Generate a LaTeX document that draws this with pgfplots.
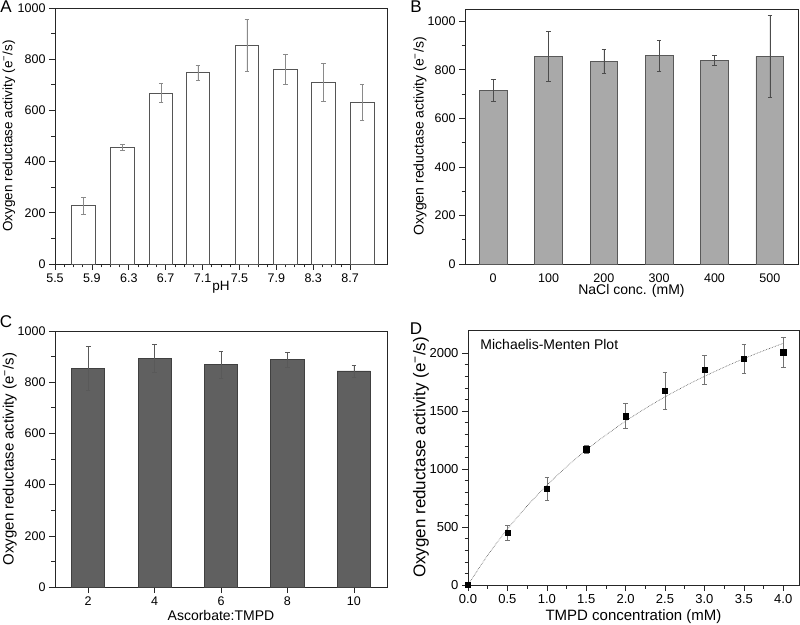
\documentclass[border=0pt]{standalone}
\usepackage{fontspec}
\setmainfont{Liberation Sans}
\usepackage{pgfplots}
\pgfplotsset{compat=1.18}

\definecolor{edgeA}{HTML}{555555}
\definecolor{errA}{HTML}{8A8A8A}
\definecolor{barB}{HTML}{A9A9A9}
\definecolor{barC}{HTML}{606060}

\newcommand{\fs}[1]{\fontsize{#1}{#1}\selectfont}
\newcommand{\ylab}{Oxygen reductase activity (e\textsuperscript{−}/s)}

\pgfplotsset{
  panel/.style={
    scale only axis,
    anchor=south west,
    clip=false,
    axis line style={black!85, line width=0.7pt},
    tick pos=left,
    tick align=outside,
    major tick length=6pt,
    minor tick length=3.5pt,
    tick style={black!85, line width=0.6pt},
    xticklabel style={font=\fs{12.5}},
    yticklabel style={font=\fs{12.5}},
    /pgf/number format/assume math mode=true,
    /pgf/number format/1000 sep={},
    ymin=0,
  },
  onedec/.style={
    xticklabel={\pgfmathprintnumber[fixed,fixed zerofill,precision=1]{\tick}},
  },
  errs/.style={
    error bars/.cd, y dir=both, y explicit,
    error bar style={#1, line width=0.6pt},
    error mark options={rotate=90, mark size=2.3pt, line width=0.6pt, draw=#1},
  },
}

\begin{document}
\begin{tikzpicture}
\path[use as bounding box] (0,0) rectangle (800pt,624pt);

% A: pH
\begin{axis}[panel, onedec,
    at={(55pt,360pt)}, width=332pt, height=256pt,
    xmin=5.5, xmax=9.1, ymax=1000,
    xtick={5.5,5.9,6.3,6.7,7.1,7.5,7.9,8.3,8.7},
    minor x tick num=3,
    ytick={0,200,400,600,800,1000}, minor y tick num=1,
]
\addplot[ybar, bar width=0.255, fill=white, draw=edgeA, line width=0.7pt, errs=errA]
  coordinates {
    (5.81,228) +- (0,33)
    (6.23,456) +- (0,12)
    (6.65,668) +- (0,37)
    (7.05,747) +- (0,28)
    (7.58,854) +- (0,103)
    (8.00,762) +- (0,59)
    (8.41,711) +- (0,74)
    (8.83,633) +- (0,70)
  };
\node[font=\fs{13.5}] at (axis description cs:0.5,-0.092) {pH};
\node[font=\fs{13.5}, rotate=90] at (axis description cs:-0.139,0.5) {\ylab};
\end{axis}

% B: NaCl
\begin{axis}[panel,
    at={(465pt,360pt)}, width=333pt, height=255pt,
    xmin=-51, xmax=551, ymax=1050,
    xtick={0,100,200,300,400,500}, major x tick style={draw=none},
    ytick={0,200,400,600,800,1000}, minor y tick num=1,
]
\addplot[ybar, bar width=50, fill=barB, draw=black!65, line width=0.7pt, errs=black!70]
  coordinates {
    (0,714) +- (0,45)
    (100,855) +- (0,103)
    (200,834) +- (0,49)
    (300,858) +- (0,64)
    (400,839) +- (0,21)
    (500,855) +- (0,167)
  };
\node[font=\fs{14}] at (axis description cs:0.5,-0.105) {NaCl conc. (mM)};
\node[font=\fs{14}, rotate=90] at (axis description cs:-0.135,0.5) {\ylab};
\end{axis}

% C: Ascorbate:TMPD
\begin{axis}[panel,
    at={(55pt,37pt)}, width=332pt, height=256pt,
    xmin=1, xmax=11, ymax=1000,
    xtick={2,4,6,8,10},
    ytick={0,200,400,600,800,1000}, minor y tick num=1,
]
\addplot[ybar, bar width=1.0, fill=barC, draw=black!75, line width=0.7pt, errs=black!65]
  coordinates {
    (2,855) +- (0,86)
    (4,893) +- (0,56)
    (6,869) +- (0,52)
    (8,888) +- (0,28)
    (10,844) +- (0,23)
  };
\node[font=\fs{14}] at (axis description cs:0.5,-0.113) {Ascorbate:TMPD};
\node[font=\fs{15}, rotate=90] at (axis description cs:-0.136,0.5) {\ylab};
\end{axis}

% D: Michaelis-Menten
\begin{axis}[panel, onedec,
    at={(468pt,39pt)}, width=331pt, height=255pt,
    xmin=0, xmax=4.2, ymax=2200,
    xtick={0,0.5,1,1.5,2,2.5,3,3.5,4},
    xticklabel style={font=\fs{13}},
    yticklabel style={font=\fs{13}},
    minor x tick num=1,
    ytick={0,500,1000,1500,2000}, minor y tick num=4,
]
% fitted curve, v = Vmax*S/(Km+S)
\addplot[densely dotted, black!70, line width=0.6pt, smooth] coordinates {
  (0,0) (0.25,257) (0.5,482) (0.75,682) (1.0,860) (1.25,1020) (1.5,1164)
  (1.75,1294) (2.0,1414) (2.25,1523) (2.5,1623) (2.75,1715) (3.0,1800)
  (3.25,1879) (3.5,1953) (3.75,2021) (4.0,2085)
};
\addplot[only marks, mark=square*, mark size=2.6pt, black, errs=black!55]
  coordinates {
    (0,0) +- (0,0)
    (0.5,448) +- (0,65)
    (1.0,830) +- (0,97)
    (1.5,1172) +- (0,36)
    (2.0,1457) +- (0,108)
    (2.5,1678) +- (0,161)
    (3.0,1856) +- (0,128)
    (3.5,1951) +- (0,124)
    (4.0,2009) +- (0,132)
  };
\node[anchor=west, font=\fs{14}] at (axis description cs:0.027,0.945) {Michaelis-Menten Plot};
\node[font=\fs{15}] at (axis description cs:0.5,-0.125) {TMPD concentration (mM)};
\node[font=\fs{17}, rotate=90] at (axis description cs:-0.142,0.5) {\ylab};
\end{axis}

% panel letters
\node[font=\fs{17}] at (6pt,617pt) {A};
\node[font=\fs{17}] at (416pt,617pt) {B};
\node[font=\fs{17}] at (6pt,302pt) {C};
\node[font=\fs{17}] at (416pt,295pt) {D};
\end{tikzpicture}
\end{document}
